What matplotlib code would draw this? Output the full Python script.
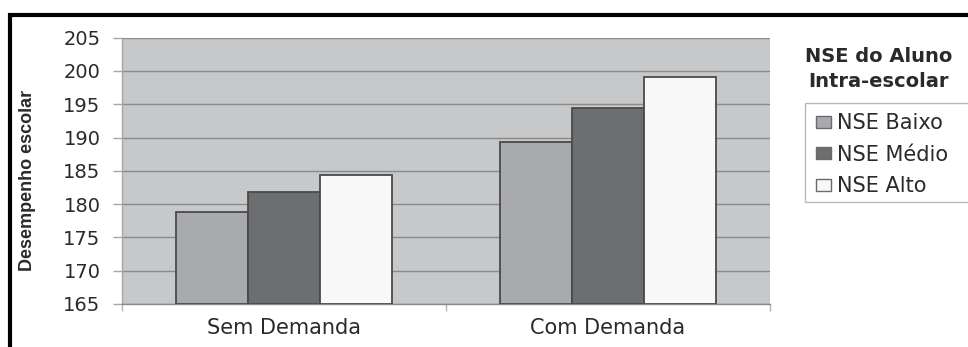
import matplotlib
matplotlib.use("Agg")
import matplotlib.pyplot as plt
import numpy as np
from matplotlib.lines import Line2D
from matplotlib.patches import Rectangle, Patch

# Data
categories = ["Sem Demanda", "Com Demanda"]
series_names = ["NSE Baixo", "NSE Médio", "NSE Alto"]
nse_baixo = [178.8, 189.3]
nse_medio = [181.8, 194.4]
nse_alto = [184.4, 199.1]
y_ticks = [165, 170, 175, 180, 185, 190, 195, 200, 205]

series_values = [nse_baixo, nse_medio, nse_alto]
fills = ["#a9aaad", "#6c6e70", "#f8f8f8"]

W, H = 968, 347
fig = plt.figure(figsize=(W / 100, H / 100), dpi=100)
fig.patch.set_facecolor("white")

# plot area in pixel coordinates
left, right, top, bottom = 122, 770, 37.7, 304
ax = fig.add_axes([left / W, 1 - bottom / H, (right - left) / W, (bottom - top) / H])
ax.set_facecolor("#c6c8ca")

x = np.arange(len(categories))
bw = 0.222
for i, (vals, col) in enumerate(zip(series_values, fills)):
    ax.bar(x + (i - 1) * bw, np.array(vals) - y_ticks[0], bottom=y_ticks[0], width=bw,
           color=col, edgecolor="#4a4a4a", linewidth=1.3, zorder=3, label=series_names[i])

ax.set_xlim(-0.5, 1.5)
ax.set_ylim(y_ticks[0], y_ticks[-1])
ax.set_yticks(y_ticks)
ax.set_yticklabels([str(t) for t in y_ticks])
ax.yaxis.grid(True, color="#8a8a8a", linewidth=1.0, zorder=1)
ax.set_axisbelow(True)

# category labels between boundary ticks
ax.set_xticks([-0.5, 0.5, 1.5])
ax.set_xticklabels([])
ax.set_xticks(x, minor=True)
ax.set_xticklabels(categories, minor=True, fontsize=15, color="#2a2a2a")
ax.tick_params(axis="x", which="major", length=5, color="#b5b5b5", width=1)
ax.tick_params(axis="x", which="minor", length=0, pad=10)
ax.tick_params(axis="y", length=6.5, color="#a8a8a8", width=1, pad=9,
               labelsize=14, labelcolor="#2a2a2a")

for s in ["top", "right"]:
    ax.spines[s].set_visible(False)
ax.spines["left"].set_color("#a8a8a8")
ax.spines["left"].set_linewidth(1)
ax.spines["bottom"].set_color("#8a8a8a")
ax.spines["bottom"].set_linewidth(1)

# axis title
fig.text(28 / W, 1 - 180 / H, "Desempenho escolar", rotation=90, ha="center", va="center",
         fontsize=13, fontweight="bold", family=["Liberation Sans", "DejaVu Sans"],
         color="#2a2a2a")

# legend title
fig.text(879 / W, 1 - 69 / H, "NSE do Aluno\nIntra-escolar", ha="center", va="center",
         fontsize=14, fontweight="bold", color="#2a2a2a", linespacing=1.4)

# legend frame, running off the right edge
fig.patches.append(Rectangle((805 / W, 1 - 202 / H), 200 / W, 99 / H,
                             transform=fig.transFigure, facecolor="white",
                             edgecolor="#b8b8b8", linewidth=1))
handles = [Patch(facecolor=c, edgecolor="#6a6a6a", linewidth=1) for c in fills]
fig.legend(handles, series_names, loc="upper left",
           bbox_to_anchor=(816 / W, 1 - 113 / H), frameon=False, fontsize=15,
           handlelength=0.74, handleheight=0.5, handletextpad=0.29,
           labelspacing=0.56, borderaxespad=0, borderpad=0, labelcolor="#2a2a2a")

# outer frame lines (top and left)
fig.add_artist(Line2D([8 / W, 1], [1 - 14.7 / H, 1 - 14.7 / H], transform=fig.transFigure,
                      color="black", linewidth=3.0, solid_capstyle="butt"))
fig.add_artist(Line2D([9.5 / W, 9.5 / W], [0, 1 - 12.7 / H], transform=fig.transFigure,
                      color="black", linewidth=3.0, solid_capstyle="butt"))

fig.savefig("out.png", dpi=100, facecolor="white")
